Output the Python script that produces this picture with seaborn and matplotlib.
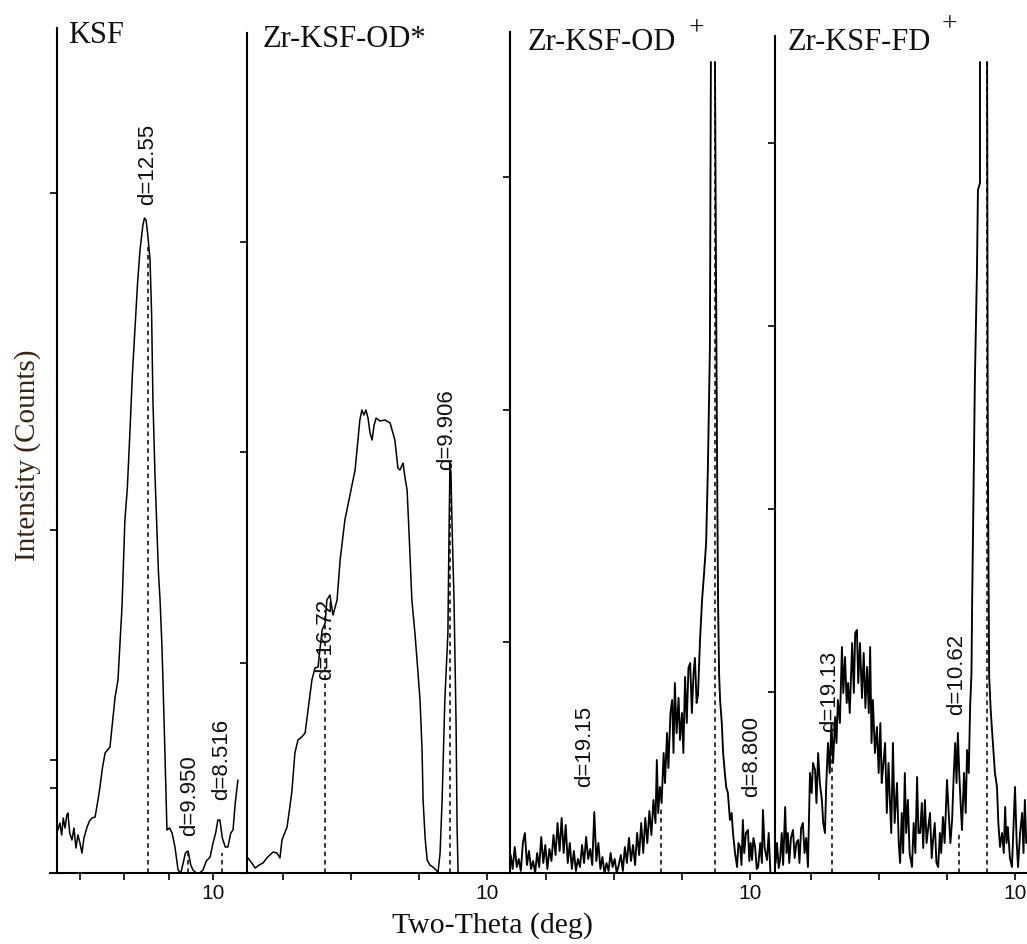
import numpy as np
import matplotlib
matplotlib.use("Agg")
import matplotlib.pyplot as plt
import seaborn as sns

# ---- data (2-theta in deg, intensity in arbitrary counts) ----
# KSF
th1 = [3.03, 3.12, 3.20, 3.27, 3.35, 3.43, 3.48, 3.56, 3.66, 3.75,
       3.84, 3.93, 4.02, 4.11, 4.20, 4.34, 4.45, 4.56, 4.70, 4.83,
       4.92, 5.03, 5.15, 5.26, 5.37, 5.48, 5.60, 5.73, 5.82, 5.91,
       6.04, 6.15, 6.27, 6.38, 6.49, 6.61, 6.72, 6.85, 6.92, 6.99,
       7.06, 7.12, 7.17, 7.24, 7.30, 7.39, 7.48, 7.55, 7.62, 7.70,
       7.75, 7.84, 7.93, 8.05, 8.16, 8.29, 8.43, 8.55, 8.66, 8.76,
       8.88, 9.00, 9.10, 9.25, 9.40, 9.55, 9.70, 9.87, 10.00, 10.12,
       10.22, 10.31, 10.42, 10.55, 10.67, 10.80, 10.90, 11.00, 11.12]
i1 = [43, 50, 38, 55, 45, 58, 60, 40, 33, 45,
      25, 38, 30, 20, 35, 46, 52, 55, 56, 73,
      86, 105, 120, 123, 126, 150, 176, 193, 230, 266,
      353, 385, 443, 500, 543, 590, 623, 648, 655, 653,
      640, 625, 613, 560, 473, 400, 343, 300, 273, 230,
      193, 120, 43, 45, 40, 26, 3, 0, 10, 20,
      22, 8, 3, 0, 0, 3, 12, 16, 30, 40,
      53, 53, 35, 26, 26, 40, 43, 70, 93]

# Zr-KSF-OD*
th2 = [2.97, 3.08, 3.18, 3.30, 3.41, 3.55, 3.71, 3.82, 3.91, 3.97,
       4.12, 4.26, 4.35, 4.44, 4.55, 4.65, 4.71, 4.85, 4.94, 5.03,
       5.15, 5.24, 5.29, 5.38, 5.47, 5.59, 5.68, 5.82, 5.97, 6.12,
       6.26, 6.32, 6.38, 6.44, 6.50, 6.56, 6.62, 6.68, 6.74, 6.85,
       7.00, 7.15, 7.29, 7.38, 7.44, 7.53, 7.59, 7.65, 7.72, 7.79,
       7.88, 7.96, 8.03, 8.09, 8.12, 8.18, 8.24, 8.32, 8.41, 8.56,
       8.62, 8.68, 8.76, 8.85, 8.88, 8.91, 8.94, 8.97, 9.03, 9.09,
       9.12, 9.15]
i2 = [15, 10, 5, 8, 10, 16, 21, 20, 15, 33,
      46, 81, 120, 133, 136, 140, 156, 193, 205, 206,
      243, 250, 273, 278, 258, 273, 313, 353, 378, 403,
      453, 463, 458, 463, 455, 440, 433, 448, 455, 452,
      453, 450, 433, 405, 403, 410, 395, 383, 330, 273,
      240, 205, 173, 123, 73, 35, 13, 8, 6, 1,
      20, 73, 173, 240, 330, 410, 400, 350, 273, 150,
      46, 0]

# Zr-KSF-OD+ : up to the left edge of the clipped peak, then from its right edge
th3a = [2.96, 3.02, 3.08, 3.14, 3.20, 3.26, 3.32, 3.38, 3.44, 3.50,
        3.56, 3.62, 3.68, 3.74, 3.80, 3.86, 3.92, 3.98, 4.04, 4.10,
        4.16, 4.22, 4.28, 4.34, 4.40, 4.46, 4.52, 4.58, 4.64, 4.70,
        4.76, 4.82, 4.88, 4.94, 5.00, 5.06, 5.12, 5.18, 5.24, 5.30,
        5.36, 5.42, 5.48, 5.54, 5.60, 5.66, 5.72, 5.78, 5.84, 5.90,
        5.96, 6.02, 6.08, 6.14, 6.20, 6.26, 6.32, 6.38, 6.44, 6.50,
        6.56, 6.62, 6.68, 6.74, 6.80, 6.86, 6.92, 6.98, 7.04, 7.10,
        7.16, 7.22, 7.26, 7.30, 7.35, 7.40, 7.46, 7.50, 7.56, 7.60,
        7.66, 7.71, 7.75, 7.79, 7.84, 7.90, 7.94, 8.00, 8.04, 8.09,
        8.14, 8.19, 8.24, 8.29, 8.34, 8.38, 8.43, 8.47, 8.53, 8.59,
        8.65, 8.71, 8.76, 8.82, 8.85]
i3a = [18, 4, 26, 6, 14, 2, 30, 40, 8, 22,
       4, 12, 0, 20, 6, 36, 10, 28, 4, 24,
       12, 38, 18, 50, 22, 55, 20, 48, 10, 30,
       4, 22, 2, 14, 6, 28, 10, 36, 14, 24,
       8, 61, 12, 30, 4, 16, 0, 10, 2, 20,
       6, 14, 0, 8, 18, 2, 26, 10, 35, 12,
       28, 8, 40, 18, 50, 20, 55, 30, 62, 38,
       73, 50, 113, 60, 86, 70, 120, 90, 140, 105,
       160, 173, 120, 190, 140, 175, 133, 160, 120, 196,
       150, 205, 210, 160, 200, 215, 170, 178, 233, 273,
       300, 330, 403, 523, 811]
th3b = [8.97, 9.00, 9.03, 9.06, 9.09, 9.12, 9.17, 9.21, 9.26, 9.30,
        9.35, 9.41, 9.46, 9.50, 9.56, 9.62, 9.66, 9.71, 9.75, 9.79,
        9.83, 9.88, 9.94, 9.98, 10.02, 10.06, 10.10, 10.15, 10.20, 10.24,
        10.30, 10.35, 10.38, 10.43, 10.50, 10.55, 10.60]
i3b = [811, 600, 420, 273, 200, 173, 150, 120, 100, 86,
       80, 53, 60, 40, 20, 6, 30, 26, 8, 53,
       20, 40, 43, 12, 30, 13, 35, 26, 4, 6,
       30, 10, 63, 25, 13, 40, 0]

# Zr-KSF-FD+
th4a = [2.96, 3.00, 3.05, 3.09, 3.14, 3.18, 3.24, 3.28, 3.32, 3.36,
        3.41, 3.47, 3.52, 3.57, 3.62, 3.66, 3.71, 3.76, 3.81, 3.86,
        3.91, 3.97, 4.02, 4.06, 4.12, 4.16, 4.21, 4.26, 4.32, 4.36,
        4.41, 4.45, 4.50, 4.55, 4.60, 4.65, 4.71, 4.75, 4.79, 4.85,
        4.91, 4.95, 5.00, 5.05, 5.09, 5.14, 5.21, 5.26, 5.30, 5.35,
        5.39, 5.44, 5.50, 5.55, 5.60, 5.65, 5.70, 5.74, 5.78, 5.82,
        5.88, 5.94, 5.99, 6.04, 6.08, 6.12, 6.18, 6.23, 6.28, 6.32,
        6.36, 6.41, 6.46, 6.53, 6.58, 6.62, 6.67, 6.71, 6.76, 6.80,
        6.85, 6.90, 6.97, 7.02, 7.07, 7.12, 7.16, 7.21, 7.26, 7.30,
        7.35, 7.40, 7.44, 7.50, 7.55, 7.59, 7.64, 7.69, 7.74, 7.79,
        7.83, 7.88, 7.93, 8.00, 8.05, 8.10, 8.15, 8.20, 8.24, 8.28,
        8.32, 8.36, 8.40, 8.44, 8.50, 8.55, 8.59, 8.64, 8.68, 8.72,
        8.74, 8.78, 8.82, 8.88, 8.91, 8.97, 8.97]
i4a = [10, 30, 5, 13, 40, 8, 66, 20, 40, 10,
       35, 43, 15, 30, 33, 10, 45, 50, 20, 35,
       6, 100, 80, 110, 103, 70, 120, 90, 73, 50,
       40, 90, 130, 100, 150, 110, 156, 130, 173, 150,
       226, 180, 216, 170, 190, 160, 230, 180, 240, 243,
       190, 230, 175, 220, 165, 206, 160, 226, 130, 173,
       120, 146, 100, 150, 90, 106, 130, 60, 110, 73,
       40, 130, 50, 90, 30, 10, 60, 20, 100, 40,
       73, 20, 6, 50, 20, 96, 40, 40, 70, 25,
       73, 30, 43, 60, 15, 33, 50, 10, 6, 40,
       20, 56, 30, 93, 60, 30, 53, 100, 130, 90,
       140, 100, 70, 43, 100, 60, 123, 100, 166, 200,
       273, 380, 493, 600, 683, 690, 811]
th4b = [9.18, 9.20, 9.24, 9.29, 9.35, 9.41, 9.47, 9.51, 9.56, 9.62,
        9.67, 9.71, 9.75, 9.79, 9.85, 9.91, 9.96, 10.00, 10.05, 10.09,
        10.15, 10.21, 10.25, 10.29, 10.33]
i4b = [811, 420, 196, 160, 130, 100, 86, 50, 26, 40,
       20, 66, 30, 46, 15, 6, 50, 86, 30, 6,
       40, 60, 20, 73, 30]

titles = ["KSF", "Zr-KSF-OD*", "Zr-KSF-OD", "Zr-KSF-FD"]
title_sup = ["", "", "+", "+"]

# reference lines (2-theta, height) and their d-spacing labels
ref_x = [[7.08, 8.88, 10.40], [5.24, 8.91], [7.38, 8.97], [4.62, 8.35, 9.18]]
ref_h = [[626, 20, 20], [263, 410], [66, 811], [133, 40, 811]]
lab_txt = [["d=12.55", "d=9.950", "d=8.516"], ["d=16.72", "d=9.906"],
           ["d=19.15", "d=8.800"], ["d=19.13", "d=10.62"]]
lab_x = [[7.08, 8.97, 10.40], [5.24, 8.82], [5.15, 10.06], [4.56, 8.29]]
lab_y = [[668, 37, 73], [193, 403], [86, 76], [141, 158]]

x_ticks = [4, 6, 8, 10]
y_ticks = [[680, 343, 113, 85], [631, 421, 210], [696, 463, 231], [730, 547, 364, 181]]

# ---- layout (pixels of the 1027x944 canvas) ----
W, H = 1027, 944
base_px = 873
left_px = [50, 245, 505, 775]
right_px = [245, 505, 775, 1027]
top_px = [28, 33, 32, 36]
ten_px = [213, 487, 750, 1015]
ppd = [22.25, 34, 34, 34]
spine_x = [3.0, 2.94, 2.94, 2.94]
line_w = [1.1, 1.1, 1.35, 1.35]
title_px = [(68, 43), (263, 47), (528, 50), (788, 50)]
sup_px = [None, None, (696, 35), (949, 31)]

sns.set_style("white")
plt.rcParams["font.family"] = ["Liberation Sans", "DejaVu Sans"]
ink = "#111111"

fig = plt.figure(figsize=(W / 100, H / 100), dpi=100)

curves = [[(th1, i1)], [(th2, i2)], [(th3a, i3a), (th3b, i3b)], [(th4a, i4a), (th4b, i4b)]]

for k in range(4):
    ax = fig.add_axes([left_px[k] / W, 1 - base_px / H,
                       (right_px[k] - left_px[k]) / W, (base_px - top_px[k]) / H])
    ax.patch.set_alpha(0)
    for xs, ys in curves[k]:
        sns.lineplot(x=xs, y=ys, ax=ax, color="black", lw=line_w[k],
                     estimator=None, sort=False)
    ax.vlines(ref_x[k], 0, ref_h[k], colors="black", lw=1.1, linestyles=(0, (3, 2.5)))
    for t, x, y in zip(lab_txt[k], lab_x[k], lab_y[k]):
        ax.text(x, y, t, rotation=90, ha="center", va="bottom",
                fontsize=16, color=ink)
    lo = 10 - (ten_px[k] - left_px[k]) / ppd[k]
    hi = 10 + (right_px[k] - ten_px[k]) / ppd[k]
    ax.set_xlim(lo, hi)
    ax.set_ylim(0, base_px - top_px[k])
    ax.set_xticks(x_ticks)
    ax.set_xticklabels(["", "", "", "10"])
    ax.set_yticks(y_ticks[k])
    ax.set_yticklabels([])
    ax.set_xlabel("")
    ax.set_ylabel("")
    ax.spines["top"].set_visible(False)
    ax.spines["right"].set_visible(False)
    ax.spines["left"].set_position(("data", spine_x[k]))
    for s in ("left", "bottom"):
        ax.spines[s].set_color("black")
        ax.spines[s].set_linewidth(1.5)
    ax.tick_params(axis="both", direction="out", length=5, width=1.2,
                   color="black", labelsize=15, labelcolor=ink, pad=3,
                   bottom=True, left=True)

    tx, ty = title_px[k]
    fig.text(tx / W, 1 - ty / H, titles[k], family="Liberation Serif",
             fontsize=22, color=ink, ha="left", va="baseline")
    if sup_px[k]:
        sx, sy = sup_px[k]
        fig.text(sx / W, 1 - sy / H, title_sup[k], family="Liberation Serif",
                 fontsize=20, color=ink, ha="center", va="baseline")

fig.text(492 / W, 1 - 933 / H, "Two-Theta (deg)", family="Liberation Serif",
         fontsize=21.5, color=ink, ha="center", va="baseline")
fig.text(28 / W, 1 - 455 / H, "Intensity (Counts)", family="Liberation Serif",
         fontsize=21, color="#3a2410", rotation=90, ha="center", va="center")

fig.savefig("out.png", dpi=100)
